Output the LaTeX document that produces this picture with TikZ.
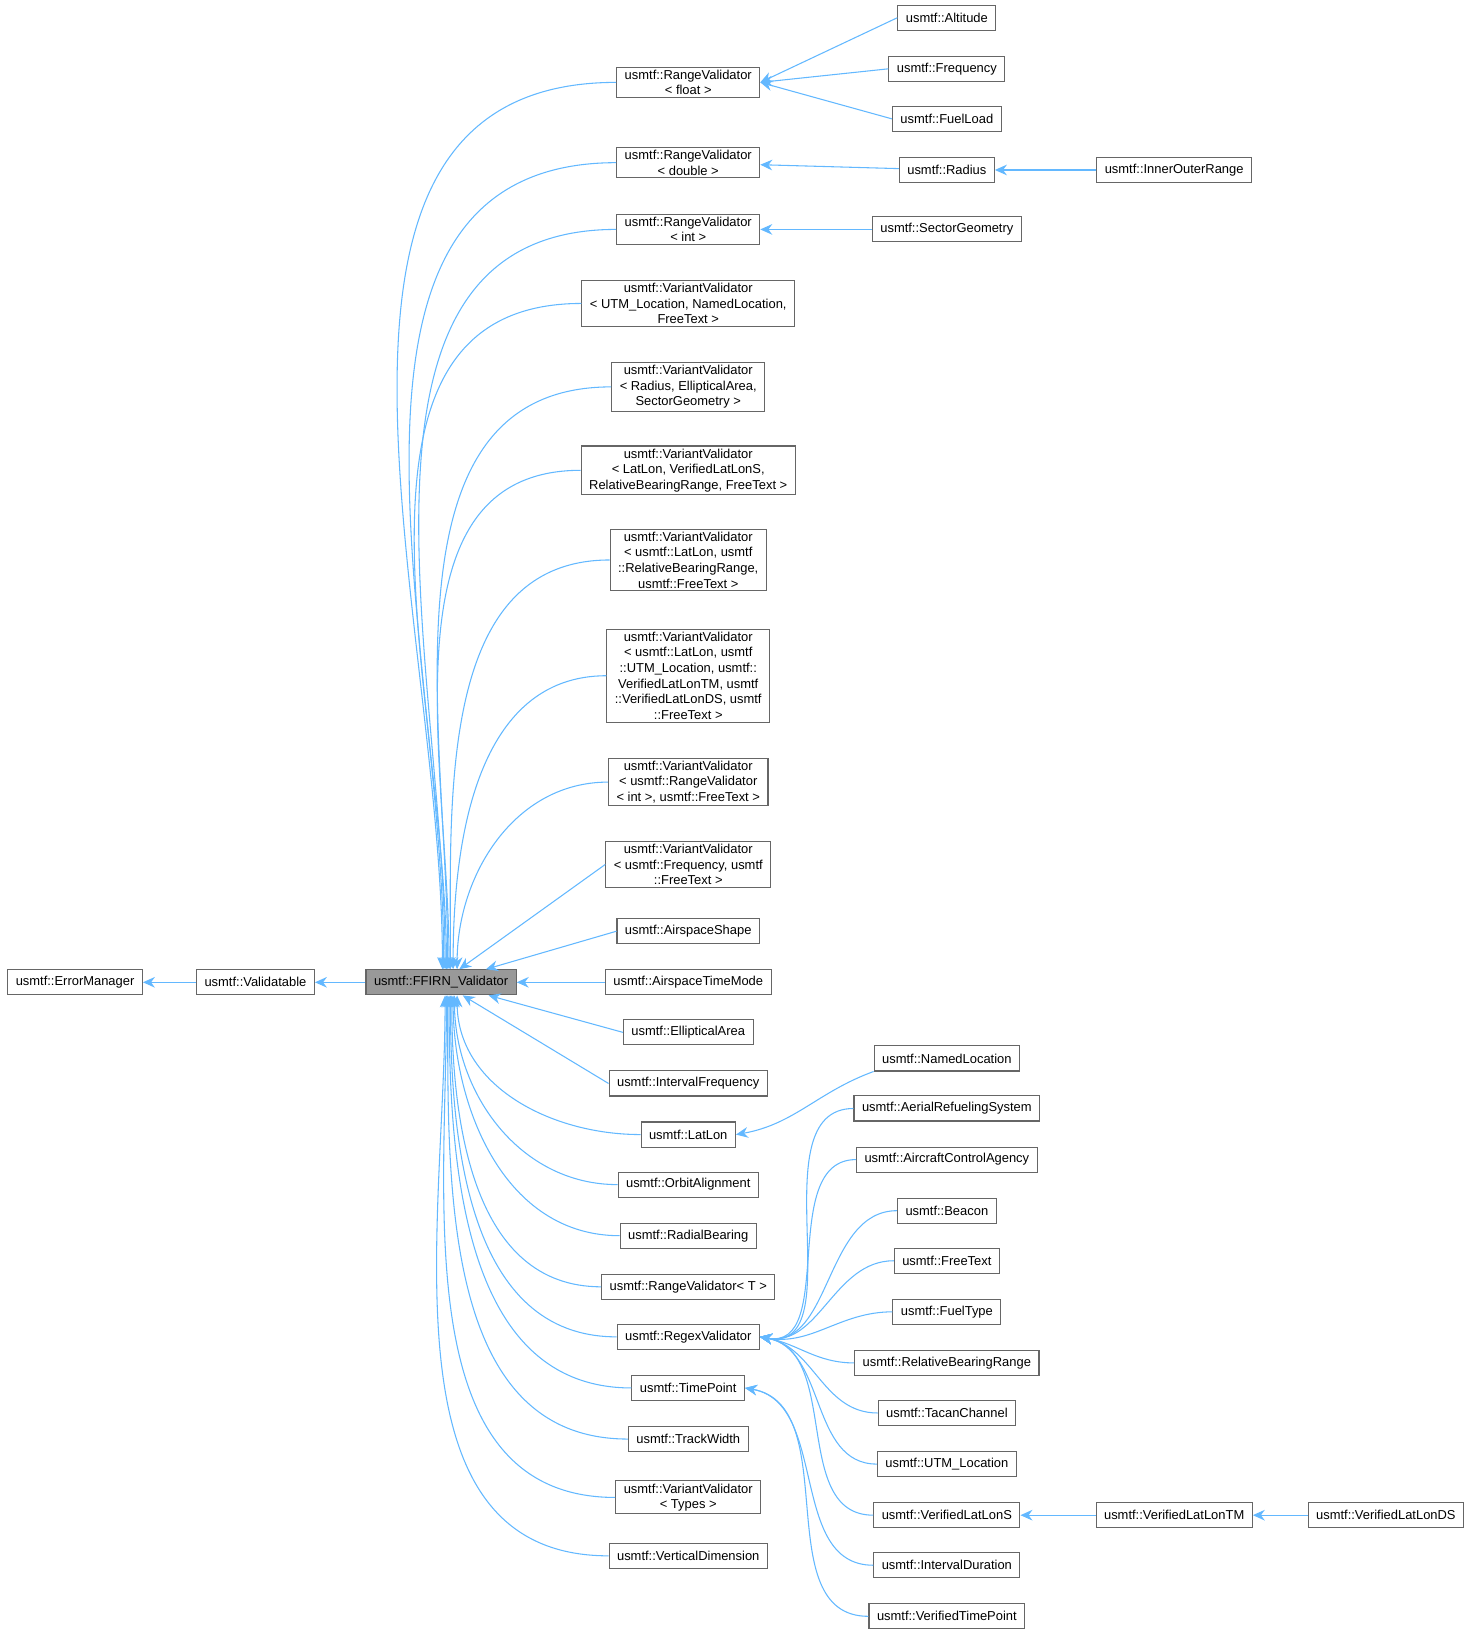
\documentclass[tikz,border=0pt]{standalone}
\usepackage{fontspec}
\setmainfont{Liberation Sans}
\usetikzlibrary{arrows.meta}
\definecolor{edgeblue}{HTML}{63B8FF}
\definecolor{boxgray}{HTML}{666666}
\tikzset{
  cls/.style={draw=boxgray, fill=white, line width=0.8pt, inner xsep=6pt, inner ysep=2pt,
    minimum height=18.8pt, font=\fontsize{9.7}{11.7}\selectfont, align=center},
  base/.style={cls, fill=black!40},
  inh/.style={draw=edgeblue, line width=0.8pt, -{Stealth[length=9pt,width=8pt]}}
}
\begin{document}
\begin{tikzpicture}[x=0.7819pt,y=-0.7819pt]
    \useasboundingbox (0,0) rectangle (1412,1566);
    % left chain
    \node[cls] (err) at (72,942) {usmtf::ErrorManager};
    \node[cls] (val) at (245,942) {usmtf::Validatable};
    \node[base] (ffirn) at (423,942) {usmtf::FFIRN\_Validator};
    \draw[inh] (val) -- (err);
    \draw[inh] (ffirn) -- (val);
    % direct children
    \node[cls] (rvf) at (660,79) {usmtf::RangeValidator\\< float >};
    \node[cls] (rvd) at (660,156) {usmtf::RangeValidator\\< double >};
    \node[cls] (rvi) at (660,220) {usmtf::RangeValidator\\< int >};
    \node[cls] (vvutm) at (660,291) {usmtf::VariantValidator\\< UTM\_Location, NamedLocation,\\ FreeText >};
    \node[cls] (vvrad) at (660,371) {usmtf::VariantValidator\\< Radius, EllipticalArea,\\ SectorGeometry >};
    \node[cls] (vvll) at (660,451) {usmtf::VariantValidator\\< LatLon, VerifiedLatLonS,\\ RelativeBearingRange, FreeText >};
    \node[cls] (vvrbr) at (660,537) {usmtf::VariantValidator\\< usmtf::LatLon, usmtf\\::RelativeBearingRange,\\ usmtf::FreeText >};
    \node[cls] (vvds) at (660,648) {usmtf::VariantValidator\\< usmtf::LatLon, usmtf\\::UTM\_Location, usmtf::\\VerifiedLatLonTM, usmtf\\::VerifiedLatLonDS, usmtf\\::FreeText >};
    \node[cls] (vvint) at (660,750) {usmtf::VariantValidator\\< usmtf::RangeValidator\\< int >, usmtf::FreeText >};
    \node[cls] (vvfreq) at (660,829) {usmtf::VariantValidator\\< usmtf::Frequency, usmtf\\::FreeText >};
    \node[cls] (shape) at (660,893) {usmtf::AirspaceShape};
    \node[cls] (tmode) at (660,942) {usmtf::AirspaceTimeMode};
    \node[cls] (ell) at (660,990) {usmtf::EllipticalArea};
    \node[cls] (ifreq) at (660,1039) {usmtf::IntervalFrequency};
    \node[cls] (latlon) at (660,1088) {usmtf::LatLon};
    \node[cls] (orbit) at (660,1136) {usmtf::OrbitAlignment};
    \node[cls] (radial) at (660,1185) {usmtf::RadialBearing};
    \node[cls] (rvt) at (660,1234) {usmtf::RangeValidator< T >};
    \node[cls] (regex) at (660,1282) {usmtf::RegexValidator};
    \node[cls] (tpoint) at (660,1331) {usmtf::TimePoint};
    \node[cls] (track) at (660,1380) {usmtf::TrackWidth};
    \node[cls] (vvtypes) at (660,1436) {usmtf::VariantValidator\\< Types >};
    \node[cls] (vdim) at (660,1492) {usmtf::VerticalDimension};
    % curves into the top of the base
    \foreach \c/\s in {rvf/1,rvd/2,rvi/3,vvutm/4,vvrad/5,vvll/6,vvrbr/7,vvds/9,vvint/12}
        \draw[inh] (\c.west) to[out=180,in=90] ([xshift=\s pt]ffirn.north);
    \foreach \c in {vvfreq,shape,tmode,ell,ifreq}
        \draw[inh] (\c.west) -- (ffirn);
    % curves into the bottom of the base
    \foreach \c/\s in {latlon/12,orbit/10,radial/9,rvt/8,regex/7,tpoint/6,track/5,vvtypes/4,vdim/3}
        \draw[inh] (\c.west) to[out=180,in=-90] ([xshift=\s pt]ffirn.south);
    % third column
    \node[cls] (alt) at (908,17) {usmtf::Altitude};
    \node[cls] (freq) at (908,66) {usmtf::Frequency};
    \node[cls] (fuel) at (908,114) {usmtf::FuelLoad};
    \node[cls] (radius) at (908,163) {usmtf::Radius};
    \node[cls] (sector) at (908,220) {usmtf::SectorGeometry};
    \node[cls] (named) at (908,1015) {usmtf::NamedLocation};
    \node[cls] (aerial) at (908,1063) {usmtf::AerialRefuelingSystem};
    \node[cls] (agency) at (908,1112) {usmtf::AircraftControlAgency};
    \node[cls] (beacon) at (908,1161) {usmtf::Beacon};
    \node[cls] (ftext) at (908,1209) {usmtf::FreeText};
    \node[cls] (ftype) at (908,1258) {usmtf::FuelType};
    \node[cls] (rbr) at (908,1307) {usmtf::RelativeBearingRange};
    \node[cls] (tacan) at (908,1355) {usmtf::TacanChannel};
    \node[cls] (utm) at (908,1404) {usmtf::UTM\_Location};
    \node[cls] (vlls) at (908,1453) {usmtf::VerifiedLatLonS};
    \node[cls] (idur) at (908,1501) {usmtf::IntervalDuration};
    \node[cls] (vtp) at (908,1550) {usmtf::VerifiedTimePoint};
    \node[cls] (inner) at (1126,163) {usmtf::InnerOuterRange};
    \node[cls] (vlltm) at (1126,1453) {usmtf::VerifiedLatLonTM};
    \node[cls] (vllds) at (1329,1453) {usmtf::VerifiedLatLonDS};
    \foreach \c in {alt,freq,fuel}
        \draw[inh] (\c.west) -- (rvf.east);
    \draw[inh] (radius) -- (rvd);
    \draw[inh] (sector) -- (rvi);
    \draw[inh] (inner) -- (radius);
    \draw[inh] (vlltm) -- (vlls);
    \draw[inh] (vllds) -- (vlltm);
    \draw[inh] (named.south west) to[out=200,in=10] (latlon.east);
    \foreach \c in {aerial,agency,beacon,ftext,ftype,rbr,tacan,utm,vlls}
        \draw[inh] (\c.west) to[out=180,in=-10] (regex.east);
    \foreach \c in {idur,vtp}
        \draw[inh] (\c.west) to[out=180,in=-10] (tpoint.east);
\end{tikzpicture}
\end{document}
